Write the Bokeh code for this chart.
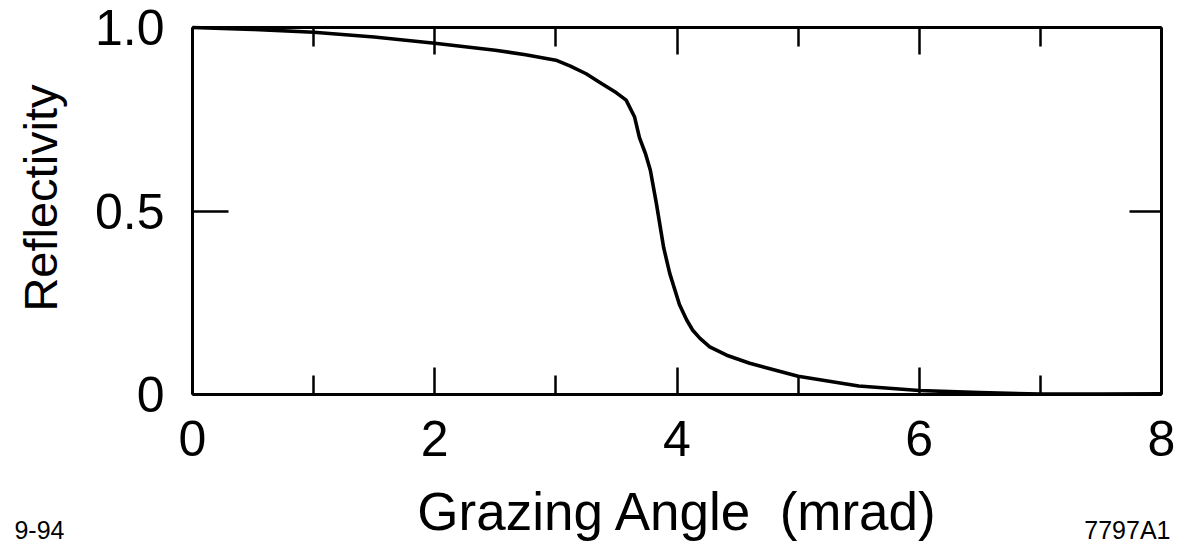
from bokeh.plotting import figure
from bokeh.models import Range1d, LinearAxis, FixedTicker, Label, CustomJSTickFormatter
from bokeh.embed import file_html
from bokeh.resources import INLINE

# Data
angle_mrad = [0, 0.5, 1, 1.5, 2, 2.5, 2.75, 3, 3.12, 3.25, 3.36, 3.5, 3.58, 3.65, 3.69, 3.74,
              3.78, 3.83, 3.89, 3.94, 4.02, 4.08, 4.13, 4.19, 4.27, 4.41, 4.6, 5, 5.5, 6,
              6.5, 7, 7.5, 8]
reflectivity = [1.0, 0.995, 0.987, 0.974, 0.957, 0.938, 0.926, 0.911, 0.895, 0.874, 0.851,
                0.822, 0.802, 0.756, 0.70, 0.656, 0.611, 0.52, 0.40, 0.33, 0.245, 0.203,
                0.175, 0.153, 0.13, 0.107, 0.085, 0.05, 0.023, 0.011, 0.005, 0.001, 0.001,
                0.002]

x_major = [0, 2, 4, 6, 8]
x_minor = [1, 3, 5, 7]
y_ticks = [0, 0.5, 1.0]
y_tick_labels = {0: "0", 0.5: "0.5", 1: "1.0"}
x_title = "Grazing Angle\u00a0 (mrad)"
y_title = "Reflectivity"
note_left = "9-94"
note_right = "7797A1"

FONT = "Liberation Sans"

# The frame covers the whole canvas; the axes are fixed at the data box edges,
# so that the texts outside the data box are not clipped.
p = figure(width=1185, height=551, output_backend="svg", toolbar_location=None,
           x_range=Range1d(-1.5851, 8.1981), y_range=Range1d(-0.4278, 1.0736),
           x_axis_location=None, y_axis_location=None,
           min_border_left=0, min_border_right=0, min_border_top=0, min_border_bottom=0)
p.grid.visible = False
p.outline_line_color = None
p.background_fill_color = "white"
p.border_fill_color = "white"

p.line(angle_mrad, reflectivity, line_color="black", line_width=3.6, line_join="round")

def style(ax, major_in, minor_in):
    ax.axis_line_color = "black"
    ax.axis_line_width = 3
    ax.major_tick_line_color = "black"
    ax.major_tick_line_width = 2.5
    ax.minor_tick_line_color = "black"
    ax.minor_tick_line_width = 2.5
    ax.major_tick_in = major_in
    ax.major_tick_out = 0
    ax.minor_tick_in = minor_in
    ax.minor_tick_out = 0
    ax.major_label_text_font = FONT
    ax.major_label_text_font_size = "50px"
    ax.major_label_text_color = "black"

blank = CustomJSTickFormatter(code="return ''")

xb = LinearAxis(ticker=FixedTicker(ticks=x_major, minor_ticks=x_minor),
                fixed_location=0, bounds=(0, 8))
style(xb, 27, 19)
xb.major_label_standoff = 26
p.add_layout(xb, "below")

xt = LinearAxis(ticker=FixedTicker(ticks=x_major, minor_ticks=x_minor), formatter=blank,
                fixed_location=1, bounds=(0, 8))
style(xt, 27, 19)
xt.major_label_text_font_size = "1px"
xt.major_label_standoff = 0
p.add_layout(xt, "above")

yl = LinearAxis(ticker=FixedTicker(ticks=y_ticks, minor_ticks=[]),
                major_label_overrides=y_tick_labels, fixed_location=0, bounds=(0, 1))
style(yl, 36, 0)
yl.major_label_standoff = 28
p.add_layout(yl, "left")

yr = LinearAxis(ticker=FixedTicker(ticks=y_ticks, minor_ticks=[]), formatter=blank,
                fixed_location=8, bounds=(0, 1))
style(yr, 32, 0)
yr.major_label_text_font_size = "1px"
yr.major_label_standoff = 0
p.add_layout(yr, "right")

# Axis titles and the figure notes
p.add_layout(Label(x=4.008, y=-0.3188, text=x_title, text_font=FONT, text_font_size="53px",
                   text_color="black", text_baseline="alphabetic", text_align="center"))
p.add_layout(Label(x=-1.2546, y=0.5354, text=y_title, text_font=FONT, text_font_size="47px",
                   text_color="black", text_baseline="alphabetic", text_align="center",
                   angle=90, angle_units="deg"))
p.add_layout(Label(x=-1.47, y=-0.3679, text=note_left, text_font=FONT, text_font_size="25px",
                   text_color="black", text_baseline="alphabetic", text_align="left"))
p.add_layout(Label(x=8.074, y=-0.3679, text=note_right, text_font=FONT, text_font_size="25px",
                   text_color="black", text_baseline="alphabetic", text_align="right"))

open("out.html", "w").write(file_html(p, INLINE))
